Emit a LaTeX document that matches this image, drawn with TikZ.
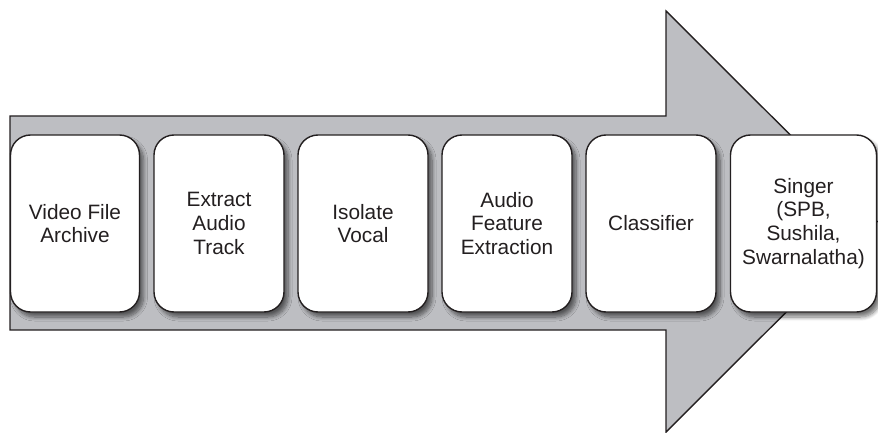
\documentclass[tikz,border=0pt]{standalone}
\usepackage{fontspec}
\setmainfont{Liberation Sans}
\usetikzlibrary{shadows.blur}
\definecolor{arrowgray}{RGB}{189,190,194}
\definecolor{edgedark}{RGB}{35,31,32}
\tikzset{
  bigarrow/.style={fill=arrowgray, draw=edgedark, line width=1.4pt, line join=miter},
  stagebox/.style={draw=edgedark, fill=white, line width=1.4pt, rounded corners=20pt,
    minimum height=177pt, inner sep=1pt, align=center, text=edgedark,
    font=\fontsize{20.8}{23.8}\selectfont,
    blur shadow={shadow xshift=4pt, shadow yshift=-5pt, shadow blur radius=4pt,
      shadow opacity=55, shadow blur steps=8}},
}
\begin{document}
\begin{tikzpicture}[x=1pt, y=-1pt]
\useasboundingbox (0,0) rectangle (878,433);
% process arrow in the background
\draw[bigarrow] (10,116) -- (666,116) -- (666,11) -- (877,221.5) -- (666,432)
  -- (666,330) -- (10,330) -- cycle;
% pipeline stages
\node[stagebox, minimum width=129pt] (s1) at (75,223.5) {Video File\\Archive};
\node[stagebox, minimum width=130pt] (s2) at (219,223.5) {Extract\\Audio\\Track};
\node[stagebox, minimum width=130pt] (s3) at (363,223.5) {Isolate\\Vocal};
\node[stagebox, minimum width=130pt] (s4) at (507,223.5) {Audio\\Feature\\Extraction};
\node[stagebox, minimum width=130pt] (s5) at (651,223.5) {Classifier};
\node[stagebox, minimum width=146pt] (s6) at (803.5,223.5) {Singer\\(SPB,\\Sushila,\\Swarnalatha)};
\end{tikzpicture}
\end{document}
